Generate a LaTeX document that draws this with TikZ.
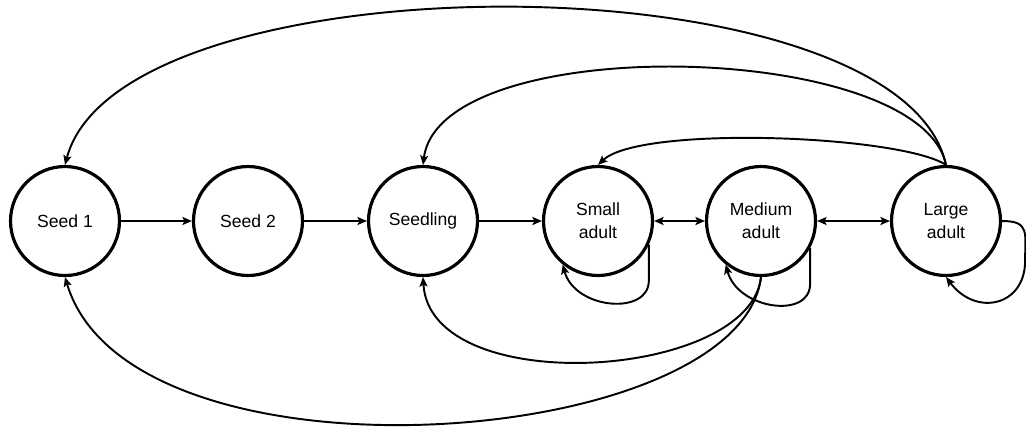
\documentclass[tikz,border=0pt]{standalone}
\usepackage{fontspec}
\setmainfont{Liberation Sans}
\usetikzlibrary{arrows.meta}

\tikzset{
  stage/.style={circle, draw, line width=1.8pt, minimum size=2.18cm, inner sep=0pt,
    align=center, font=\fontsize{10}{12.9}\selectfont},
  tip/.style={-{Stealth[length=1.9mm,width=1.6mm,inset=0.4mm]}},
  arr/.style={line width=1.1pt, tip},
  darr/.style={line width=1.1pt,
    {Stealth[length=1.9mm,width=1.6mm,inset=0.4mm]}-{Stealth[length=1.9mm,width=1.6mm,inset=0.4mm]}}
}

\begin{document}
\begin{tikzpicture}[x=0.02cm, y=-0.02cm]
    \useasboundingbox (0,0) rectangle (1026,434);

    \node[stage] (s1) at (65,221) {Seed 1};
    \node[stage] (s2) at (248,221) {Seed 2};
    \node[stage] (sl) at (423,221) {Seedling};
    \node[stage] (sa) at (598,221) {Small\\adult};
    \node[stage] (ma) at (761,221) {Medium\\adult};
    \node[stage] (la) at (946,221) {Large\\adult};

    \draw[arr] (s1) -- (s2);
    \draw[arr] (s2) -- (sl);
    \draw[arr] (sl) -- (sa);
    \draw[darr] (sa) -- (ma);
    \draw[darr] (ma) -- (la);

    % reproduction and shrinking from the large adults
    \draw[arr] (la.north) .. controls (900,-45) and (120,-45) .. (s1.north);
    \draw[arr] (la.north) .. controls (920,40) and (440,30) .. (sl.north);
    \draw[arr] (la.north) .. controls (900,135) and (640,125) .. (sa.north);

    % from the medium adults
    \draw[arr] (ma.south) .. controls (740,450) and (130,495) .. (s1.south);
    \draw[arr] (ma.south) .. controls (750,380) and (430,400) .. (sl.south);

    % stasis
    \draw[arr] (sa.-25) -- ++(0,36) .. controls +(0,35) and +(12,45) .. (sa.231);
    \draw[arr] (ma.-29) -- ++(0,36) .. controls +(0,35) and +(12,45) .. (ma.231);
    \draw[arr] (la.east) .. controls +(28,0) and +(0,-28) .. ++(23,40)
      .. controls +(0,45) and +(30,40) .. (la.south);
\end{tikzpicture}
\end{document}
